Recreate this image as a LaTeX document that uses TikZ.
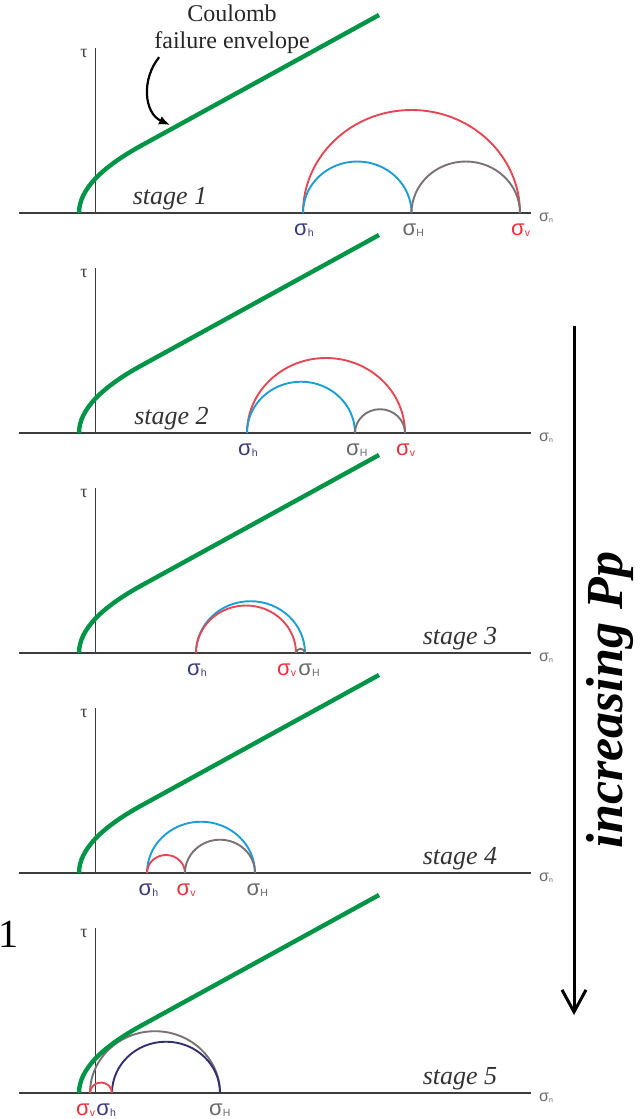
\documentclass[tikz,border=0pt]{standalone}
\usepackage{fontspec}
\setmainfont{Liberation Serif}
\newfontfamily\labfont{Liberation Sans}
\usetikzlibrary{positioning, arrows.meta}

\definecolor{envgreen}{RGB}{0,148,70}
\definecolor{mohrred}{RGB}{228,72,84}
\definecolor{mohrblue}{RGB}{28,158,212}
\definecolor{mohrgrey}{RGB}{122,114,114}
\definecolor{mohrnavy}{RGB}{52,48,112}
\definecolor{labnavy}{RGB}{58,58,128}
\definecolor{labred}{RGB}{236,48,60}
\definecolor{labgrey}{RGB}{105,105,105}
\definecolor{axisgrey}{RGB}{60,60,60}

\newcommand{\sig}[1]{σ\raisebox{-1.5pt}{\fontsize{10.5}{10.5}\selectfont #1}}
\newcommand{\sign}{σ\raisebox{-1pt}{\fontsize{7}{7}\selectfont n}}

\begin{document}
\begin{tikzpicture}[
    x=1pt, y=-1pt,
    axis/.style={draw=axisgrey, line width=1.9pt},
    tauaxis/.style={draw=axisgrey, line width=1.4pt},
    envelope/.style={draw=envgreen, line width=4.4pt},
    arcred/.style={draw=mohrred, line width=1.9pt},
    arcblue/.style={draw=mohrblue, line width=1.9pt},
    arcgrey/.style={draw=mohrgrey, line width=1.9pt},
    arcnavy/.style={draw=mohrnavy, line width=1.9pt},
    siglab/.style={font=\labfont\fontsize{22}{22}\selectfont, inner sep=0pt, anchor=base west},
    nlab/.style={font=\labfont\fontsize{16}{16}\selectfont, text=labgrey, inner sep=0pt},
    taulab/.style={font=\fontsize{18}{18}\selectfont, text=axisgrey, inner sep=0pt},
    stagelab/.style={font=\itshape\fontsize{26}{26}\selectfont, text=black!80, inner sep=0pt, anchor=base},
    annot/.style={font=\fontsize{24}{27}\selectfont, align=center, text=black!85, inner sep=0pt, anchor=north},
    annarrow/.style={line width=2.2pt, -{Latex[length=11pt, width=9pt]}},
    pparrow/.style={line width=3pt, -{Straight Barb[length=22pt, width=24pt, line width=3pt]}},
    pplab/.style={font=\bfseries\itshape\fontsize{52}{52}\selectfont, rotate=90, inner sep=0pt, anchor=base},
]
\useasboundingbox (0,0) rectangle (643,1119);

% stage 1
\begin{scope}
\coordinate (a1) at (18.5,213);
\coordinate (n1) at (531,213);
\coordinate (o1) at (95.5,213);
\coordinate (t1) at (95.5,48);
\draw[axis] (a1) -- (n1);
\draw[tauaxis] (o1) -- (t1);
\node[taulab] (tau1) at (84,53) {τ};
\node[nlab, right=8pt of n1, yshift=-5pt] (sn1) {\sign};
\draw[arcred] (303,213) arc[start angle=180, end angle=360, x radius=108.5, y radius=103];
\draw[arcblue] (303,213) arc[start angle=180, end angle=360, x radius=54.25, y radius=51.5];
\draw[arcgrey] (411.5,213) arc[start angle=180, end angle=360, x radius=54.25, y radius=51.5];
\draw[envelope] (79,213) .. controls (79,190) and (101,167) .. (146,143) -- (379,15);
\node[siglab, text=labnavy] (h1) at (294,235) {\sig{h}};
\node[siglab, text=labgrey] (H1) at (402.5,235) {\sig{H}};
\node[siglab, text=labred] (v1) at (511,235) {\sig{v}};
\node[stagelab] (st1) at (170,204) {stage 1};
% label of the envelope
\node[annot] (coulomb) at (232,5) {Coulomb\\failure envelope};
\coordinate (envpt) at (170,125);
\draw[annarrow] ([xshift=5pt, yshift=-3pt]coulomb.south west)
    .. controls +(-18,22) and +(-26,-12) .. (envpt);
\end{scope}

% stage 2
\begin{scope}[yshift=-220pt]
\coordinate (a2) at (18.5,213);
\coordinate (n2) at (531,213);
\coordinate (o2) at (95.5,213);
\coordinate (t2) at (95.5,48);
\draw[axis] (a2) -- (n2);
\draw[tauaxis] (o2) -- (t2);
\node[taulab] (tau2) at (84,53) {τ};
\node[nlab, right=8pt of n2, yshift=-5pt] (sn2) {\sign};
\draw[arcred] (247,213) arc[start angle=180, end angle=360, x radius=79, y radius=75];
\draw[arcblue] (247,213) arc[start angle=180, end angle=360, x radius=54, y radius=51.3];
\draw[arcgrey] (355,213) arc[start angle=180, end angle=360, x radius=25, y radius=23.8];
\draw[envelope] (79,213) .. controls (79,190) and (101,167) .. (146,143) -- (379,15);
\node[siglab, text=labnavy] (h2) at (238,235) {\sig{h}};
\node[siglab, text=labgrey] (H2) at (346,235) {\sig{H}};
\node[siglab, text=labred] (v2) at (396,235) {\sig{v}};
\node[stagelab] (st2) at (171.5,204) {stage 2};
\end{scope}

% stage 3
\begin{scope}[yshift=-440pt]
\coordinate (a3) at (18.5,213);
\coordinate (n3) at (531,213);
\coordinate (o3) at (95.5,213);
\coordinate (t3) at (95.5,48);
\draw[axis] (a3) -- (n3);
\draw[tauaxis] (o3) -- (t3);
\node[taulab] (tau3) at (84,53) {τ};
\node[nlab, right=8pt of n3, yshift=-5pt] (sn3) {\sign};
\draw[arcblue] (196,213) arc[start angle=180, end angle=360, x radius=54.5, y radius=51.8];
\draw[arcred] (196,213) arc[start angle=180, end angle=360, x radius=50, y radius=47.5];
\draw[arcgrey] (296,213) arc[start angle=180, end angle=360, x radius=4.5, y radius=4.3];
\draw[envelope] (79,213) .. controls (79,190) and (101,167) .. (146,143) -- (379,15);
\node[siglab, text=labnavy] (h3) at (187,235) {\sig{h}};
\node[siglab, text=labred] (v3) at (277,235) {\sig{v}};
\node[siglab, text=labgrey, base right=2pt of v3] (H3) {\sig{H}};
\node[stagelab] (st3) at (460,204) {stage 3};
\end{scope}

% stage 4
\begin{scope}[yshift=-660pt]
\coordinate (a4) at (18.5,213);
\coordinate (n4) at (531,213);
\coordinate (o4) at (95.5,213);
\coordinate (t4) at (95.5,48);
\draw[axis] (a4) -- (n4);
\draw[tauaxis] (o4) -- (t4);
\node[taulab] (tau4) at (84,53) {τ};
\node[nlab, right=8pt of n4, yshift=-5pt] (sn4) {\sign};
\draw[arcblue] (147,213) arc[start angle=180, end angle=360, x radius=54, y radius=51.3];
\draw[arcred] (147,213) arc[start angle=180, end angle=360, x radius=19, y radius=18];
\draw[arcgrey] (185,213) arc[start angle=180, end angle=360, x radius=35, y radius=33.3];
\draw[envelope] (79,213) .. controls (79,190) and (101,167) .. (146,143) -- (379,15);
\node[siglab, text=labnavy] (h4) at (138.5,235) {\sig{h}};
\node[siglab, text=labred] (v4) at (176.5,235) {\sig{v}};
\node[siglab, text=labgrey] (H4) at (246.5,235) {\sig{H}};
\node[stagelab] (st4) at (460,204) {stage 4};
\end{scope}

% stage 5
\begin{scope}[yshift=-880pt]
\coordinate (a5) at (18.5,213);
\coordinate (n5) at (531,213);
\coordinate (o5) at (95.5,213);
\coordinate (t5) at (95.5,48);
\draw[axis] (a5) -- (n5);
\draw[tauaxis] (o5) -- (t5);
\node[taulab] (tau5) at (84,53) {τ};
\node[nlab, right=8pt of n5, yshift=-5pt] (sn5) {\sign};
\draw[arcgrey] (90,213) arc[start angle=180, end angle=360, x radius=65, y radius=61.8];
\draw[arcnavy] (112,213) arc[start angle=180, end angle=360, x radius=54, y radius=51.3];
\draw[arcred] (90,213) arc[start angle=180, end angle=360, x radius=11, y radius=10.5];
\draw[envelope] (79,213) .. controls (79,190) and (101,167) .. (146,143) -- (379,15);
\node[siglab, text=labred] (v5) at (76,235) {\sig{v}};
\node[siglab, text=labnavy, base right=1pt of v5] (h5) {\sig{h}};
\node[siglab, text=labgrey] (H5) at (209,235) {\sig{H}};
\node[stagelab] (st5) at (460,204) {stage 5};
\end{scope}

\node[font=\fontsize{40}{40}\selectfont, inner sep=0pt, anchor=base west] (stray) at (-2,947) {1};

% pore pressure arrow
\coordinate (ptop) at (574,326);
\coordinate (pbot) at (574,1015);
\draw[pparrow] (ptop) -- (pbot);
\node[pplab] (pp) at (622,700) {increasing Pp};

\end{tikzpicture}
\end{document}
